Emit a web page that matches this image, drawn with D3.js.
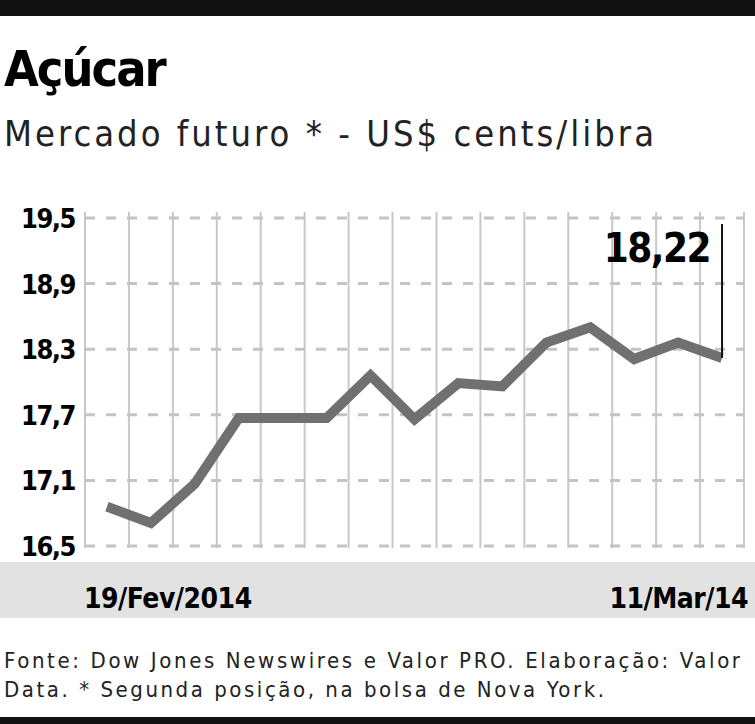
<!DOCTYPE html><html><head><meta charset="utf-8"><script src="https://cdn.jsdelivr.net/npm/d3@7"></script>
<style>body{margin:0;background:#fff}text{font-family:"DejaVu Sans Condensed","DejaVu Sans",sans-serif}</style></head><body><svg id="c" width="755" height="724"></svg><script>
const dates=["19/Fev","20/Fev","21/Fev","24/Fev","25/Fev","26/Fev","27/Fev","28/Fev","03/Mar","04/Mar","05/Mar","06/Mar","07/Mar","10/Mar","11/Mar"];
const values=[16.86,16.71,17.07,17.67,17.67,17.67,18.06,17.66,17.99,17.96,18.36,18.5,18.21,18.36,18.22];
const yTicks=[16.5,17.1,17.7,18.3,18.9,19.5];
const svg=d3.select("#c");
svg.append("rect").attr("x",0).attr("y",0).attr("width",755).attr("height",16).attr("fill","#111");
svg.append("rect").attr("x",0).attr("y",717).attr("width",755).attr("height",7).attr("fill","#111");
svg.append("text").attr("x",4).attr("y",86).attr("font-size",50).attr("font-weight","bold").attr("font-family","DejaVu Sans").attr("letter-spacing",-2).text("Açúcar");
svg.append("text").attr("x",4).attr("y",146).attr("font-size",36).attr("font-family","DejaVu Sans").attr("fill","#222").attr("textLength",650).text("Mercado futuro * - US$ cents/libra");
const x=d3.scaleBand().domain(dates).range([85,744]);
const y=d3.scaleLinear().domain([16.5,19.5]).range([546,218]);
const g=svg.append("g");
[...dates.map(d=>x(d)),744].forEach(v=>g.append("line").attr("x1",v).attr("x2",v).attr("y1",212).attr("y2",548).attr("stroke","#c8c8c8").attr("stroke-width",2));
yTicks.forEach(t=>{g.append("line").attr("x1",85).attr("x2",744).attr("y1",y(t)).attr("y2",y(t)).attr("stroke","#c4c4c4").attr("stroke-width",3).attr("stroke-dasharray","10,11");
g.append("text").attr("x",75).attr("y",y(t)+10).attr("text-anchor","end").attr("font-size",27).attr("font-weight","bold").attr("letter-spacing",-1.5).text(d3.format(".1f")(t).replace(".",","));});
const cx=d=>x(d)+x.bandwidth()/2;
svg.append("path").datum(values).attr("fill","none").attr("stroke","#707070").attr("stroke-width",10).attr("stroke-linejoin","miter")
 .attr("d",d3.line().x((d,i)=>cx(dates[i])).y(d=>y(d)));
const lx=cx(dates[14]),lv=values[14];
svg.append("line").attr("x1",lx).attr("x2",lx).attr("y1",224).attr("y2",y(lv)).attr("stroke","#111").attr("stroke-width",2);
svg.append("text").attr("x",lx-12).attr("y",262).attr("text-anchor","end").attr("font-size",40).attr("font-weight","bold").attr("letter-spacing",-1.5).text(d3.format(".2f")(lv).replace(".",","));
svg.append("rect").attr("x",0).attr("y",562).attr("width",755).attr("height",56).attr("fill","#e2e2e2");
svg.append("text").attr("x",84).attr("y",608).attr("font-size",28).attr("font-weight","bold").attr("letter-spacing",-0.5).text("19/Fev/2014");
svg.append("text").attr("x",748).attr("y",608).attr("text-anchor","end").attr("font-size",28).attr("font-weight","bold").attr("letter-spacing",-0.5).text("11/Mar/14");
svg.append("text").attr("x",4).attr("y",668).attr("font-size",22).attr("fill","#222").attr("textLength",736).text("Fonte: Dow Jones Newswires e Valor PRO. Elaboração: Valor");
svg.append("text").attr("x",4).attr("y",697).attr("font-size",22).attr("fill","#222").attr("textLength",600).text("Data. * Segunda posição, na bolsa de Nova York.");
</script></body></html>
